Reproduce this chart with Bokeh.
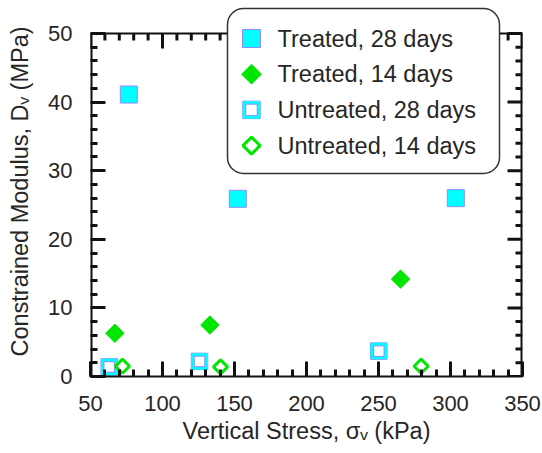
from math import pi

from bokeh.core.properties import value
from bokeh.embed import file_html
from bokeh.models import FixedTicker, Quad, Range1d, SingleIntervalTicker
from bokeh.plotting import figure
from bokeh.resources import INLINE

# Constrained modulus D_V (MPa) measured at several vertical stresses (kPa)
treated28_stress = [76.6, 152.3, 303.7]
treated28_modulus = [41.1, 25.9, 26.0]

treated14_stress = [66.9, 132.9, 265.3]
treated14_modulus = [6.3, 7.5, 14.2]

untreated28_stress = [63.0, 125.7, 250.2]
untreated28_modulus = [1.4, 2.2, 3.7]

untreated14_stress = [72.2, 140.3, 279.6]
untreated14_modulus = [1.5, 1.4, 1.5]

series_labels = ["Treated, 28 days", "Treated, 14 days",
                 "Untreated, 28 days", "Untreated, 14 days"]

X_START, X_END, X_MAJOR, X_MINOR = 50, 350, 50, 10
Y_START, Y_END, Y_MAJOR, Y_MINOR = 0, 50, 10, 2

FONT = "Liberation Sans"
TEXT = "#262626"
TICK = "#111111"
CYAN = "#00FFFF"
CYAN_EDGE = "#8C8CFF"
GREEN = "#00E600"

# canvas layout (px)
W, H = 542, 453
LEFT, RIGHT, BOTTOM = 90, 20, 77
AXES_TOP = 33          # top edge of the boxed axes
CANVAS_TOP = 6         # drawing area reaches a little higher so the key can overhang the box
AXES_W = W - LEFT - RIGHT
AXES_H = H - AXES_TOP - BOTTOM
DX = (X_END - X_START) / AXES_W      # data units per pixel
DY = (Y_END - Y_START) / AXES_H
Y_TOP = Y_END + (AXES_TOP - CANVAS_TOP) * DY

MAJOR_LEN, MINOR_LEN = 15, 7
TICK_W = 3

p = figure(width=W, height=H, output_backend="svg", toolbar_location=None,
           x_range=Range1d(X_START, X_END), y_range=Range1d(Y_START, Y_TOP),
           min_border_left=LEFT, min_border_right=RIGHT,
           min_border_top=CANVAS_TOP, min_border_bottom=BOTTOM,
           background_fill_color="white", border_fill_color="white")
p.xgrid.visible = False
p.ygrid.visible = False
p.outline_line_color = None

x_major = list(range(X_START, X_END + 1, X_MAJOR))
x_minor = [v for v in range(X_START, X_END + 1, X_MINOR) if v not in x_major]
y_major = list(range(Y_START, Y_END + 1, Y_MAJOR))
y_minor = [v for v in range(Y_START, Y_END + 1, Y_MINOR) if v not in y_major]

xaxis = p.xaxis[0]
yaxis = p.yaxis[0]
xaxis.ticker = SingleIntervalTicker(interval=X_MAJOR, num_minor_ticks=X_MAJOR // X_MINOR)
yaxis.ticker = FixedTicker(ticks=y_major, minor_ticks=y_minor)
for ax in (xaxis, yaxis):
    ax.major_tick_line_color = TICK
    ax.minor_tick_line_color = TICK
    ax.major_tick_line_width = TICK_W
    ax.minor_tick_line_width = TICK_W
    ax.major_tick_in = MAJOR_LEN
    ax.major_tick_out = 0
    ax.minor_tick_in = MINOR_LEN
    ax.minor_tick_out = 0
    ax.major_label_text_font = FONT
    ax.major_label_text_font_size = "22px"
    ax.major_label_text_color = TEXT
    ax.axis_label_text_font = FONT
    ax.axis_label_text_font_size = "23.5px"
    ax.axis_label_text_font_style = "normal"
    ax.axis_label_text_color = TEXT
xaxis.major_label_standoff = 19
yaxis.major_label_standoff = 18
xaxis.axis_line_color = TICK
xaxis.axis_line_width = 2
yaxis.axis_line_color = None

xaxis.axis_label = "Vertical Stress, \u03c3\u1d65 (kPa)"
xaxis.axis_label_standoff = 4
yaxis.axis_label = "Constrained Modulus, D\u1d65 (MPa)"
yaxis.axis_label_standoff = 12

# box edges: left and right sit on the clip edge, so they are drawn twice as wide
p.segment(x0=X_START, y0=Y_END, x1=X_END, y1=Y_END, line_color=TICK, line_width=2)
p.segment(x0=[X_START, X_END], y0=[Y_START, Y_START], x1=[X_START, X_END], y1=[Y_END, Y_END],
          line_color=TICK, line_width=4)

# mirrored inward ticks on the top and right edges
for ticks, length in ((x_major, MAJOR_LEN), (x_minor, MINOR_LEN)):
    p.segment(x0=[float(t) for t in ticks], y0=[Y_END] * len(ticks),
              x1=[float(t) for t in ticks], y1=[Y_END - length * DY] * len(ticks),
              line_color=TICK, line_width=TICK_W)
for ticks, length in ((y_major, MAJOR_LEN), (y_minor, MINOR_LEN)):
    p.segment(x0=[X_END] * len(ticks), y0=[float(t) for t in ticks],
              x1=[X_END - length * DX] * len(ticks), y1=[float(t) for t in ticks],
              line_color=TICK, line_width=TICK_W)

# Treated, 28 days: filled cyan squares
p.scatter(treated28_stress, treated28_modulus, marker="square", size=17,
          fill_color=CYAN, line_color=CYAN_EDGE, line_width=1)

# Treated, 14 days: filled green diamonds
p.scatter(treated14_stress, treated14_modulus, marker="square", angle=pi / 4,
          size=13, fill_color=GREEN, line_color=GREEN, line_width=1)

# Untreated, 28 days: open cyan squares with a thin blue rim
p.scatter(untreated28_stress, untreated28_modulus, marker="square", size=16.5,
          fill_color=None, line_color=CYAN_EDGE, line_width=1)
p.scatter(untreated28_stress, untreated28_modulus, marker="square", size=13.5,
          fill_color=None, line_color=CYAN, line_width=3)
p.scatter(untreated28_stress, untreated28_modulus, marker="square", size=10.5,
          fill_color=None, line_color=CYAN_EDGE, line_width=1)

# Untreated, 14 days: open green diamonds
p.scatter(untreated14_stress, untreated14_modulus, marker="square", angle=pi / 4,
          size=10, fill_color=None, line_color=GREEN, line_width=3)


# ---- key, laid out in pixels from the lower-left corner of the boxed axes ----
def at_x(px):
    return X_START + px * DX


def at_y(px):
    return Y_START + px * DY


KEY_LEFT, KEY_RIGHT, KEY_BOTTOM, KEY_TOP = 137, 409, 203, 368
KEY_ROW0, KEY_PITCH = 338, 35.7
KEY_MARK_X, KEY_TEXT_X = 161, 187

box_style = dict(fill_color="white", fill_alpha=1.0, line_color="#333333", line_width=1.5)
if "border_radius" in Quad.properties():
    box_style["border_radius"] = 16
p.quad(left=[at_x(KEY_LEFT)], right=[at_x(KEY_RIGHT)],
       bottom=[at_y(KEY_BOTTOM)], top=[at_y(KEY_TOP)], **box_style)

rows = [at_y(KEY_ROW0 - i * KEY_PITCH) for i in range(len(series_labels))]
mx = at_x(KEY_MARK_X)

key_marks = [
    [dict(marker="square", size=18, fill_color=CYAN, line_color=CYAN_EDGE, line_width=1)],
    [dict(marker="square", angle=pi / 4, size=14, fill_color=GREEN, line_color=GREEN,
          line_width=1)],
    [dict(marker="square", size=17.5, fill_color=None, line_color=CYAN_EDGE, line_width=1),
     dict(marker="square", size=14.5, fill_color=None, line_color=CYAN, line_width=3),
     dict(marker="square", size=11.5, fill_color=None, line_color=CYAN_EDGE, line_width=1)],
    [dict(marker="square", angle=pi / 4, size=12, fill_color=None, line_color=GREEN,
          line_width=3)],
]
for row, layers in zip(rows, key_marks):
    for style in layers:
        p.scatter([mx], [row], **style)

p.text(x=[at_x(KEY_TEXT_X)] * len(series_labels), y=rows, text=series_labels,
       text_font=value(FONT), text_font_size=value("23.5px"), text_color=TEXT,
       text_align="left", text_baseline="middle")

open("out.html", "w").write(file_html(p, INLINE))
